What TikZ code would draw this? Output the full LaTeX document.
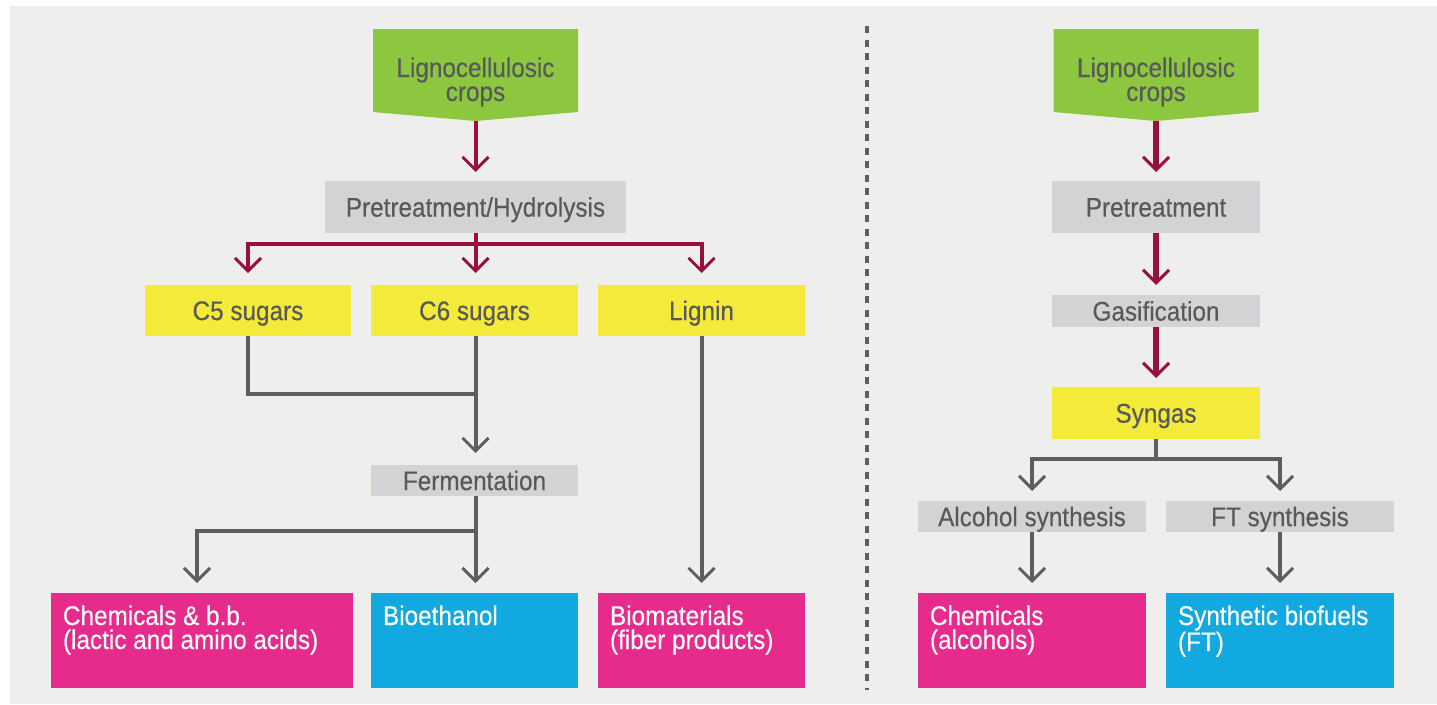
\documentclass[tikz,border=0pt]{standalone}
\usepackage{fontspec}
\setmainfont[FakeStretch=0.9,FakeBold=0.3]{Liberation Sans}
\usetikzlibrary{arrows.meta}

\definecolor{panelbg}{HTML}{EEEEEC}
\definecolor{procgray}{HTML}{D1D3D4}
\definecolor{sugaryellow}{HTML}{F4EA3A}
\definecolor{cropgreen}{HTML}{8DC63F}
\definecolor{prodmagenta}{HTML}{E72B8C}
\definecolor{prodblue}{HTML}{11A9E0}
\definecolor{flowred}{HTML}{990F3D}
\definecolor{flowgray}{HTML}{5D5E60}
\definecolor{txtgray}{HTML}{58595B}

\newcommand\mainfs{\fontsize{27}{24}\selectfont\lineskiplimit=-20pt}
% top-aligned text block for the product boxes
\newcommand\prodtext[2]{\parbox[c][95pt][t]{#1}{\raggedright\rule{0pt}{32pt}#2}}
% two-line label of the crop pentagons
\newcommand\croptext{\parbox[c][92pt][t]{205pt}{\centering\rule{0pt}{48pt}Lignocellulosic\\crops}}

\pgfdeclarelayer{bg}
\pgfsetlayers{bg,main}

\begin{document}
\begin{tikzpicture}[x=1pt,y=-1pt,
  every node/.style={inner sep=0pt, outer sep=0pt},
  procbox/.style={rectangle, fill=procgray, text=txtgray, font=\mainfs,
    text height=19.3pt, text depth=0pt},
  sugarbox/.style={procbox, fill=sugaryellow},
  outbox/.style={rectangle, text=white, font=\mainfs},
  cropbox/.style={rectangle, text=txtgray, font=\mainfs},
  tipshape/.style={-{Straight Barb[length=13pt,width=26pt,line width=3pt]}},
  redflow/.style={draw=flowred, line width=4pt, miter limit=10},
  redflowthick/.style={draw=flowred, line width=5.5pt},
  grayflow/.style={draw=flowgray, line width=4pt},
  divider/.style={draw=flowgray, line width=4.5pt, dash pattern=on 7pt off 6.5pt}
]
\useasboundingbox (0,0) rectangle (1437,704);
\begin{pgfonlayer}{bg}
\fill[panelbg] (10,6) rectangle (1437,704);
\end{pgfonlayer}

% ---------- biochemical route ----------
\node[cropbox] (cropsL) at (475.5,75) {\croptext};
\node[procbox, minimum width=301pt, minimum height=52pt] (pretreatL) at (475.5,207) {Pretreatment/Hydrolysis};
\node[sugarbox, minimum width=206pt, minimum height=51pt] (c5) at (248,310.5) {C5 sugars};
\node[sugarbox, minimum width=207pt, minimum height=51pt] (c6) at (474.5,310.5) {C6 sugars};
\node[sugarbox, minimum width=207pt, minimum height=51pt] (lignin) at (701.5,310.5) {Lignin};
\node[procbox, minimum width=207pt, minimum height=31pt] (ferm) at (474.5,480.5) {Fermentation};
\node[outbox, fill=prodmagenta, minimum width=302pt, minimum height=95pt] (chemL) at (202,640.5)
  {\prodtext{278pt}{Chemicals \& b.b.\\(lactic and amino acids)}};
\node[outbox, fill=prodblue, minimum width=207pt, minimum height=95pt] (bioeth) at (474.5,640.5)
  {\prodtext{183pt}{Bioethanol}};
\node[outbox, fill=prodmagenta, minimum width=207pt, minimum height=95pt] (biomat) at (701.5,640.5)
  {\prodtext{183pt}{Biomaterials\\(fiber products)}};

\begin{pgfonlayer}{bg}
\fill[cropgreen] (cropsL.north west) -- (cropsL.north east) -- ([yshift=9pt]cropsL.south east)
  -- (cropsL.south) -- ([yshift=9pt]cropsL.south west) -- cycle;
\end{pgfonlayer}

\coordinate (forkL) at (475.5,244);
\coordinate (joinL) at (475.5,394);
\coordinate (branchL) at (475.5,531);

\draw[redflow, tipshape, shorten >=9pt] (cropsL.south) -- (cropsL.south |- pretreatL.north);
\draw[redflow] (pretreatL.south) -- (forkL);
\draw[redflow, tipshape, shorten >=12pt] (forkL) -| (c5.north);
\draw[redflow, tipshape, shorten >=12pt] (forkL) -| (lignin.north);
\draw[redflow, tipshape, shorten >=12pt] (forkL) -- (forkL |- c6.north);

\draw[grayflow] (c5.south) |- (joinL);
\draw[grayflow, tipshape, shorten >=12pt] (c6.south -| joinL) -- (joinL |- ferm.north);
\draw[grayflow, tipshape, shorten >=10pt] (ferm.south -| branchL) -- (branchL |- bioeth.north);
\draw[grayflow, tipshape, shorten >=10pt] (branchL) -| ([xshift=-5pt]chemL.north);
\draw[grayflow, tipshape, shorten >=10pt] (lignin.south) -- (biomat.north);

% ---------- divider ----------
\draw[divider] (867,26) -- (867,690);

% ---------- thermochemical route ----------
\node[cropbox] (cropsR) at (1156,75) {\croptext};
\node[procbox, minimum width=208pt, minimum height=52pt] (pretreatR) at (1156,207) {Pretreatment};
\node[procbox, minimum width=208pt, minimum height=32pt] (gasif) at (1156,311) {Gasification};
\node[sugarbox, minimum width=208pt, minimum height=52pt] (syngas) at (1156,413) {Syngas};
\node[procbox, minimum width=228pt, minimum height=31pt] (alc) at (1032,516.5) {Alcohol synthesis};
\node[procbox, minimum width=228pt, minimum height=31pt] (ft) at (1280,516.5) {FT synthesis};
\node[outbox, fill=prodmagenta, minimum width=228pt, minimum height=95pt] (chemR) at (1032,640.5)
  {\prodtext{204pt}{Chemicals\\(alcohols)}};
\node[outbox, fill=prodblue, minimum width=228pt, minimum height=95pt] (synR) at (1280,640.5)
  {\prodtext{204pt}{Synthetic biofuels\\(FT)}};

\begin{pgfonlayer}{bg}
\fill[cropgreen] (cropsR.north west) -- (cropsR.north east) -- ([yshift=9pt]cropsR.south east)
  -- (cropsR.south) -- ([yshift=9pt]cropsR.south west) -- cycle;
\end{pgfonlayer}

\coordinate (forkR) at (1156,459);

\draw[redflowthick, tipshape, shorten >=9pt] (cropsR.south) -- (pretreatR.north);
\draw[redflowthick, tipshape, shorten >=10pt] (pretreatR.south) -- (gasif.north);
\draw[redflowthick, tipshape, shorten >=9pt] (gasif.south) -- (syngas.north);

\draw[grayflow] (syngas.south) -- (forkR);
\draw[grayflow, tipshape, shorten >=10pt] (forkR) -| (alc.north);
\draw[grayflow, tipshape, shorten >=10pt] (forkR) -| (ft.north);
\draw[grayflow, tipshape, shorten >=10pt] (alc.south) -- (chemR.north);
\draw[grayflow, tipshape, shorten >=10pt] (ft.south) -- (synR.north);
\end{tikzpicture}
\end{document}
